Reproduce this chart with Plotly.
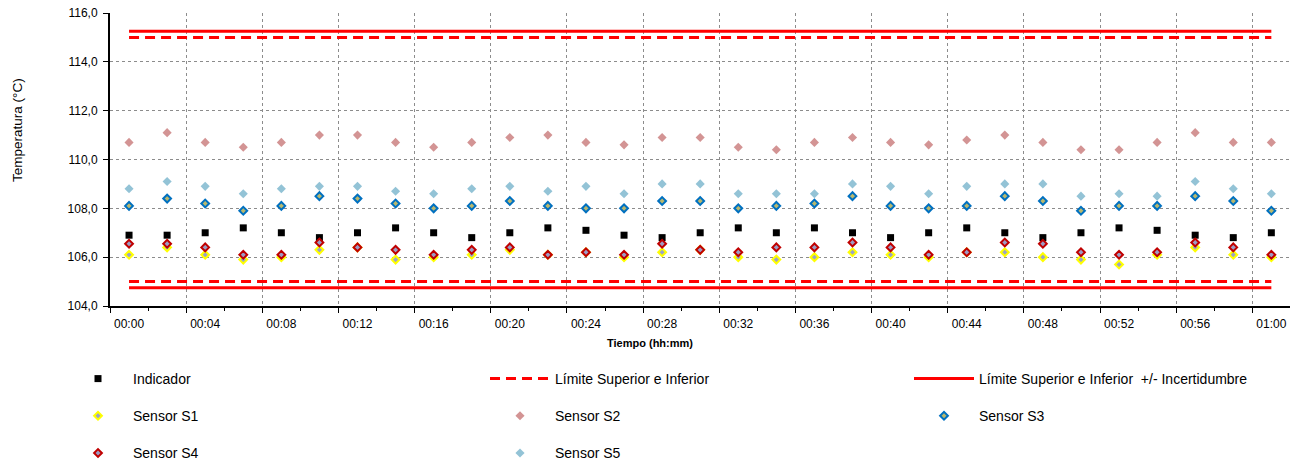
import plotly.graph_objects as go

# Tiempo de registro (hh:mm)
tiempo = [
    "00:00", "00:02", "00:04", "00:06", "00:08", "00:10", "00:12", "00:14",
    "00:16", "00:18", "00:20", "00:22", "00:24", "00:26", "00:28", "00:30",
    "00:32", "00:34", "00:36", "00:38", "00:40", "00:42", "00:44", "00:46",
    "00:48", "00:50", "00:52", "00:54", "00:56", "00:58", "01:00",
]

# Lecturas de temperatura (°C)
indicador = [
    106.9, 106.9, 107.0, 107.2, 107.0, 106.8, 107.0, 107.2,
    107.0, 106.8, 107.0, 107.2, 107.1, 106.9, 106.8, 107.0,
    107.2, 107.0, 107.2, 107.0, 106.8, 107.0, 107.2, 107.0,
    106.8, 107.0, 107.2, 107.1, 106.9, 106.8, 107.0,
]
sensor_s1 = [
    106.1, 106.4, 106.1, 105.9, 106.0, 106.3, 106.4, 105.9,
    106.0, 106.1, 106.3, 106.1, 106.2, 106.0, 106.2, 106.3,
    106.0, 105.9, 106.0, 106.2, 106.1, 106.0, 106.2, 106.2,
    106.0, 105.9, 105.7, 106.1, 106.4, 106.1, 106.0,
]
sensor_s2 = [
    110.7, 111.1, 110.7, 110.5, 110.7, 111.0, 111.0, 110.7,
    110.5, 110.7, 110.9, 111.0, 110.7, 110.6, 110.9, 110.9,
    110.5, 110.4, 110.7, 110.9, 110.7, 110.6, 110.8, 111.0,
    110.7, 110.4, 110.4, 110.7, 111.1, 110.7, 110.7,
]
sensor_s3 = [
    108.1, 108.4, 108.2, 107.9, 108.1, 108.5, 108.4, 108.2,
    108.0, 108.1, 108.3, 108.1, 108.0, 108.0, 108.3, 108.3,
    108.0, 108.1, 108.2, 108.5, 108.1, 108.0, 108.1, 108.5,
    108.3, 107.9, 108.1, 108.1, 108.5, 108.3, 107.9,
]
sensor_s4 = [
    106.55, 106.55, 106.4, 106.1, 106.1, 106.6, 106.4, 106.3,
    106.1, 106.3, 106.4, 106.1, 106.2, 106.1, 106.55, 106.3,
    106.2, 106.4, 106.4, 106.6, 106.4, 106.1, 106.2, 106.6,
    106.55, 106.2, 106.1, 106.2, 106.6, 106.4, 106.1,
]
sensor_s5 = [
    108.8, 109.1, 108.9, 108.6, 108.8, 108.9, 108.9, 108.7,
    108.6, 108.8, 108.9, 108.7, 108.9, 108.6, 109.0, 109.0,
    108.6, 108.6, 108.6, 109.0, 108.9, 108.6, 108.9, 109.0,
    109.0, 108.5, 108.6, 108.5, 109.1, 108.8, 108.6,
]

# Límites de control
limite_superior = 115.0
limite_inferior = 105.0
incertidumbre = 0.25

# Etiquetas del eje de tiempo
etiquetas_tiempo = [
    "00:00", "00:04", "00:08", "00:12", "00:16", "00:20", "00:24", "00:28",
    "00:32", "00:36", "00:40", "00:44", "00:48", "00:52", "00:56", "01:00",
]


def a_minutos(t):
    h, m = t.split(":")
    return int(h) * 60 + int(m)


minutos = [a_minutos(t) for t in tiempo]
pos_etiquetas = [a_minutos(t) for t in etiquetas_tiempo]
t_ini, t_fin = minutos[0], minutos[-1]

FONT = "Liberation Sans, Arial, sans-serif"

fig = go.Figure()


def serie(nombre, valores, simbolo, tam, relleno, borde, ancho_borde, leyenda):
    fig.add_trace(go.Scatter(
        x=minutos, y=valores, mode="markers", name=nombre,
        marker=dict(symbol=simbolo, size=tam, color=relleno,
                    line=dict(color=borde, width=ancho_borde)),
        legend=leyenda, legendgroup=nombre,
    ))


# Columnas de la leyenda: legend (1), legend2 (2), legend3 (3)
serie("Indicador", indicador, "square", 7, "#000000", "#000000", 0, "legend")
serie("Sensor S1", sensor_s1, "diamond", 6, "#9AA3C8", "#FFFF00", 2, "legend")
serie("Sensor S2", sensor_s2, "diamond", 7, "#D39494", "#D39494", 0, "legend2")
serie("Sensor S3", sensor_s3, "diamond", 6, "#B9B86E", "#0070C0", 2, "legend3")
serie("Sensor S4", sensor_s4, "diamond", 6, "#9C9CC4", "#C00000", 2, "legend")
serie("Sensor S5", sensor_s5, "diamond", 7, "#93C3D6", "#93C3D6", 0, "legend2")

# Límite superior e inferior
fig.add_trace(go.Scatter(
    x=[t_ini, t_fin, None, t_ini, t_fin],
    y=[limite_superior, limite_superior, None, limite_inferior, limite_inferior],
    mode="lines", name="Límite Superior e Inferior",
    line=dict(color="#FF0000", width=3, dash="10px,6px"),
    legend="legend2", legendgroup="lim", legendrank=1,
))
# Límites +/- incertidumbre
fig.add_trace(go.Scatter(
    x=[t_ini, t_fin, None, t_ini, t_fin],
    y=[limite_superior + incertidumbre, limite_superior + incertidumbre, None,
       limite_inferior - incertidumbre, limite_inferior - incertidumbre],
    mode="lines", name="Límite Superior e Inferior  +/- Incertidumbre",
    line=dict(color="#FF0000", width=3),
    legend="legend3", legendgroup="lim_inc", legendrank=1,
))

L, R, T, B = 110, 3, 13, 160
W, H = 1293, 466
pw, ph = W - L - R, H - T - B


def px_x(p):
    return (p - L) / pw


def px_y(p):
    return (H - B - p) / ph


leg_common = dict(
    orientation="v", xanchor="left", yanchor="top",
    xref="container", yref="container", y=1 - 363 / H,
    itemwidth=60, tracegroupgap=16, traceorder="grouped",
    font=dict(family=FONT, size=14, color="#000000"),
    bgcolor="rgba(0,0,0,0)", itemclick=False,
)

fig.update_layout(
    width=W, height=H,
    margin=dict(l=L, r=R, t=T, b=B, autoexpand=False),
    paper_bgcolor="#FFFFFF", plot_bgcolor="#FFFFFF",
    separators=",.",
    font=dict(family=FONT, size=14, color="#000000"),
    showlegend=True,
    legend=dict(leg_common, x=63 / W),
    legend2=dict(leg_common, x=485 / W),
    legend3=dict(leg_common, x=909 / W),
    xaxis=dict(
        range=[-1, 60.98], tick0=-1, dtick=4, automargin=False,
        showticklabels=False, ticks="outside", ticklen=5, tickwidth=1,
        tickcolor="#000000",
        minor=dict(dtick=2, tick0=-1, ticks="outside", ticklen=3,
                   tickwidth=1, tickcolor="#000000", showgrid=False),
        showgrid=True, gridcolor="#8C8C8C", gridwidth=1, griddash="dot",
        showline=True, linecolor="#000000", linewidth=2, zeroline=False,
    ),
    xaxis2=dict(
        overlaying="x", anchor="y", side="bottom", automargin=False,
        range=[-1, 60.98], tickmode="array",
        tickvals=pos_etiquetas, ticktext=etiquetas_tiempo,
        ticks="", ticklabelstandoff=9, showgrid=False, showline=False,
        zeroline=False, tickfont=dict(family=FONT, size=12, color="#000000"),
    ),
    yaxis=dict(
        range=[104, 116], dtick=2, tickformat=".1f", automargin=False,
        ticks="outside", ticklen=5, tickwidth=1, tickcolor="#000000",
        ticklabelstandoff=3,
        showgrid=True, gridcolor="#8C8C8C", gridwidth=1, griddash="dot",
        showline=True, linecolor="#000000", linewidth=2, zeroline=False,
        tickfont=dict(family=FONT, size=12, color="#000000"),
    ),
    annotations=[
        dict(text="Temperatura (°C)", textangle=-90, xref="paper", yref="paper",
             x=px_x(17), y=px_y(130), xanchor="center", yanchor="middle",
             showarrow=False, font=dict(family=FONT, size=13.5, color="#000000")),
        dict(text="<b>Tiempo (hh:mm)</b>", xref="paper", yref="paper",
             x=px_x(650), y=px_y(343), xanchor="center", yanchor="middle",
             showarrow=False, font=dict(family=FONT, size=11, color="#000000")),
    ],
)

# Eje auxiliar sin trazas para las etiquetas de tiempo
fig.add_trace(go.Scatter(x=[None], y=[None], xaxis="x2", showlegend=False,
                         hoverinfo="skip"))

fig.write_html("out.html")
